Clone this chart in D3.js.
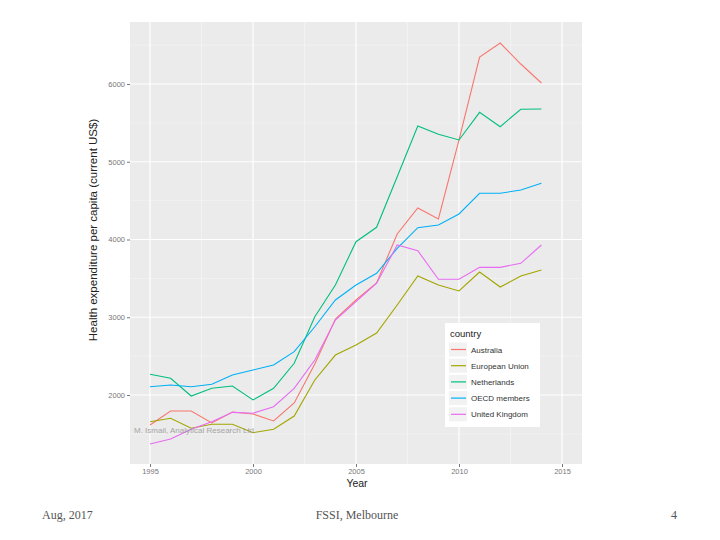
<!DOCTYPE html>
<html>
<head>
<meta charset="utf-8">
<script src="https://cdn.jsdelivr.net/npm/d3@7"></script>
<style>
  html, body { margin: 0; padding: 0; background: #fff; }
  svg { display: block; }
</style>
</head>
<body>
<svg id="chart" width="720" height="540"></svg>
<script>
const years = d3.range(1995, 2015);
const countries = ["Australia", "European Union", "Netherlands", "OECD members", "United Kingdom"];
const colors = ["#F8766D", "#A3A500", "#00BF7D", "#00B0F6", "#E76BF3"];

const australia = [1614, 1794, 1794, 1640, 1781, 1756, 1666, 1897, 2400, 2977, 3222, 3441, 4071, 4405, 4264, 5280, 6347, 6527, 6257, 6013];
const europeanUnion = [1657, 1700, 1572, 1623, 1623, 1515, 1559, 1730, 2193, 2514, 2643, 2797, 3158, 3531, 3415, 3338, 3582, 3389, 3531, 3608];
const netherlands = [2266, 2215, 1987, 2086, 2116, 1936, 2086, 2408, 3007, 3415, 3972, 4157, 4808, 5460, 5353, 5280, 5636, 5451, 5675, 5679];
const oecd = [2107, 2129, 2107, 2138, 2257, 2322, 2386, 2557, 2878, 3222, 3415, 3565, 3887, 4152, 4187, 4328, 4594, 4594, 4637, 4723];
const uk = [1370, 1434, 1559, 1657, 1777, 1765, 1850, 2086, 2450, 2965, 3200, 3437, 3929, 3856, 3488, 3488, 3642, 3642, 3694, 3929];

const seriesValues = [australia, europeanUnion, netherlands, oecd, uk];
const xTicks = [1995, 2000, 2005, 2010, 2015];
const yTicks = [2000, 3000, 4000, 5000, 6000];

const svg = d3.select("#chart");
const panel = { left: 130, top: 22, right: 582, bottom: 464 };

const x = d3.scaleLinear().domain([1995, 2015]).range([150, 562]);
const y = d3.scaleLinear().domain([2000, 6000]).range([395, 84]);

// panel background
svg.append("rect")
  .attr("x", panel.left).attr("y", panel.top)
  .attr("width", panel.right - panel.left).attr("height", panel.bottom - panel.top)
  .attr("fill", "#EBEBEB");

const xMinor = [1997.5, 2002.5, 2007.5, 2012.5];
const yMinor = [1500, 2500, 3500, 4500, 5500, 6500];

const grid = svg.append("g");
grid.selectAll(".xminor").data(xMinor).join("line")
  .attr("x1", d => x(d)).attr("x2", d => x(d))
  .attr("y1", panel.top).attr("y2", panel.bottom)
  .attr("stroke", "#F7F7F7").attr("stroke-width", 0.6);
grid.selectAll(".yminor").data(yMinor).join("line")
  .attr("x1", panel.left).attr("x2", panel.right)
  .attr("y1", d => y(d)).attr("y2", d => y(d))
  .attr("stroke", "#F7F7F7").attr("stroke-width", 0.6);
grid.selectAll(".xmajor").data(xTicks).join("line")
  .attr("x1", d => x(d)).attr("x2", d => x(d))
  .attr("y1", panel.top).attr("y2", panel.bottom)
  .attr("stroke", "#FFFFFF").attr("stroke-width", 1.2);
grid.selectAll(".ymajor").data(yTicks).join("line")
  .attr("x1", panel.left).attr("x2", panel.right)
  .attr("y1", d => y(d)).attr("y2", d => y(d))
  .attr("stroke", "#FFFFFF").attr("stroke-width", 1.2);

// axes
const xAxis = d3.axisBottom(x).tickValues(xTicks).tickFormat(d3.format("d")).tickSize(3).tickPadding(2);
const yAxis = d3.axisLeft(y).tickValues(yTicks).tickFormat(d3.format("d")).tickSize(3).tickPadding(2);

const gx = svg.append("g").attr("transform", `translate(0,${panel.bottom})`).call(xAxis);
const gy = svg.append("g").attr("transform", `translate(${panel.left},0)`).call(yAxis);
[gx, gy].forEach(g => {
  g.select(".domain").remove();
  g.selectAll(".tick line").attr("stroke", "#555").attr("stroke-width", 0.8);
  g.selectAll(".tick text").attr("fill", "#777").attr("font-size", 7.5)
    .attr("font-family", "Liberation Sans, Arial, sans-serif");
});

// axis titles
svg.append("text").attr("x", (panel.left + panel.right) / 2 + 1).attr("y", 487)
  .attr("text-anchor", "middle").attr("font-size", 10.5).attr("fill", "#222")
  .attr("font-family", "Liberation Sans, Arial, sans-serif").text("Year");
svg.append("text").attr("transform", `translate(97,230) rotate(-90)`)
  .attr("text-anchor", "middle").attr("font-size", 11.5).attr("fill", "#222")
  .attr("font-family", "Liberation Sans, Arial, sans-serif")
  .text("Health expenditure per capita (current US$)");

// lines
const line = d3.line().x((d, i) => x(years[i])).y(d => y(d));
svg.append("g").selectAll("path").data(seriesValues).join("path")
  .attr("d", d => line(d))
  .attr("fill", "none")
  .attr("stroke", (d, i) => colors[i])
  .attr("stroke-width", 1.1);

// watermark
svg.append("text").attr("x", 134).attr("y", 433)
  .attr("font-size", 8).attr("fill", "#999").attr("opacity", 0.85)
  .attr("font-family", "Liberation Sans, Arial, sans-serif")
  .text("M. Ismail, Analytical Research Ltd");

// legend
const lg = svg.append("g");
lg.append("rect").attr("x", 445).attr("y", 323).attr("width", 95).attr("height", 104).attr("fill", "#fff");
lg.append("text").attr("x", 450).attr("y", 337).attr("font-size", 9.5).attr("fill", "#222")
  .attr("font-family", "Liberation Sans, Arial, sans-serif").text("country");
const items = lg.selectAll(".item").data(countries).join("g")
  .attr("transform", (d, i) => `translate(0,${349.5 + i * 16.2})`);
items.append("rect").attr("x", 449).attr("y", -7).attr("width", 18).attr("height", 14).attr("fill", "#F2F2F2");
items.append("line").attr("x1", 451).attr("x2", 466).attr("y1", 0).attr("y2", 0)
  .attr("stroke", (d, i) => colors[i]).attr("stroke-width", 1.2);
items.append("text").attr("x", 471).attr("y", 3).attr("font-size", 8).attr("fill", "#333")
  .attr("font-family", "Liberation Sans, Arial, sans-serif").text(d => d);

// footer
const footer = svg.append("g").attr("font-family", "Liberation Serif, Times New Roman, serif")
  .attr("font-size", 12).attr("fill", "#555");
footer.append("text").attr("x", 42).attr("y", 519).text("Aug, 2017");
footer.append("text").attr("x", 357).attr("y", 519).attr("text-anchor", "middle").text("FSSI, Melbourne");
footer.append("text").attr("x", 677).attr("y", 519).attr("text-anchor", "end").text("4");
</script>
</body>
</html>
